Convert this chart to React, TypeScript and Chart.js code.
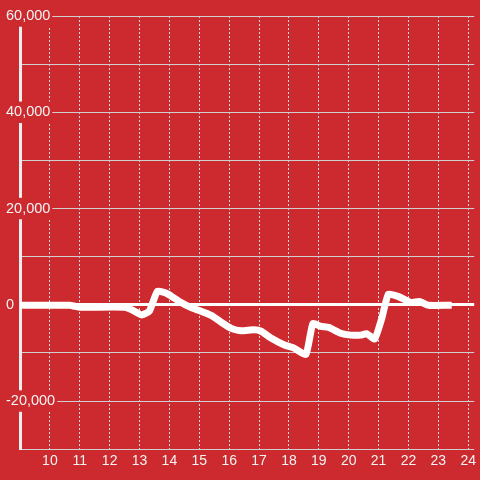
import React, { useEffect, useRef } from "react";
import { Chart, registerables } from "chart.js";

Chart.register(...registerables);

// hours of day (x) and values (y)
const hours = [
  9.0, 10.67, 10.83, 11.0, 12.5, 12.73, 13.07, 13.33, 13.6, 13.93, 14.33, 14.73, 15.0, 15.4,
  15.73, 16.07, 16.4, 16.83, 17.07, 17.4, 17.83, 18.17, 18.57, 18.8, 19.07, 19.33, 19.73,
  20.07, 20.4, 20.6, 20.87, 21.1, 21.33, 21.67, 22.07, 22.37, 22.67, 23.33,
];
const values = [
  -100, -100, -300, -500, -500, -1000, -2100, -1300, 2800, 2300, 700, -600, -1200, -2200,
  -3600, -4900, -5400, -5200, -5500, -6900, -8300, -9000, -10300, -3900, -4500, -4700, -5900,
  -6300, -6300, -6000, -7100, -3000, 2200, 1700, 500, 700, -100, -100,
];
const xTicks = [9, 10, 11, 12, 13, 14, 15, 16, 17, 18, 19, 20, 21, 22, 23, 24];
const yTickLabels = [-20000, 0, 20000, 40000, 60000];

const BG = "#cc2a2e";
const TEXT = "#f3f3f3";

export default function App() {
  const ref = useRef<HTMLCanvasElement | null>(null);
  useEffect(() => {
    if (!ref.current) return;
    const chart = new Chart(ref.current, {
      type: "line",
      data: {
        datasets: [
          {
            data: hours.map((h, i) => ({ x: h, y: values[i] })),
            borderColor: "#ffffff",
            borderWidth: 7,
            borderCapStyle: "square",
            borderJoinStyle: "round",
            pointRadius: 0,
            tension: 0.15,
            fill: false,
          },
        ],
      },
      options: {
        responsive: false,
        animation: false,
        layout: { padding: { left: 5, top: 16, right: 0, bottom: 6 } },
        plugins: { legend: { display: false }, tooltip: { enabled: false } },
        scales: {
          x: {
            type: "linear",
            min: 9,
            max: 24.2,
            afterBuildTicks: (scale: any) => {
              scale.ticks = xTicks.map((v) => ({ value: v }));
            },
            ticks: {
              padding: 4,
              color: TEXT,
              font: { size: 14 },
              maxRotation: 0,
              autoSkip: false,
              callback: (v: any) => (v >= 10 ? String(v) : ""),
            },
            grid: { color: "#dddddd", lineWidth: 1, drawTicks: false },
            border: { display: false, dash: [2, 2] },
          },
          y: {
            min: -30000,
            max: 60000,
            afterFit: (scale: any) => {
              scale.width = 15;
            },
            ticks: {
              stepSize: 10000,
              color: TEXT,
              font: { size: 14.5 },
              mirror: true,
              crossAlign: "near",
              padding: -14,
              showLabelBackdrop: true,
              backdropColor: BG,
              backdropPadding: 2,
              callback: (v: any) =>
                yTickLabels.includes(Number(v)) ? Number(v).toLocaleString("en-US") : "",
            },
            grid: {
              drawTicks: false,
              color: (ctx: any) => (ctx.tick && ctx.tick.value === 0 ? "#ffffff" : "#cfcfcf"),
              lineWidth: (ctx: any) => (ctx.tick && ctx.tick.value === 0 ? 3 : 1),
            },
            border: { display: true, color: "#eeeeee", width: 3 },
          },
        },
      },
    });
    return () => chart.destroy();
  }, []);
  return (
    <div
      style={{
        position: "fixed",
        left: 0,
        top: 0,
        width: 480,
        height: 480,
        background: BG,
      }}
    >
      <canvas ref={ref} width={480} height={480} style={{ display: "block" }} />
    </div>
  );
}
